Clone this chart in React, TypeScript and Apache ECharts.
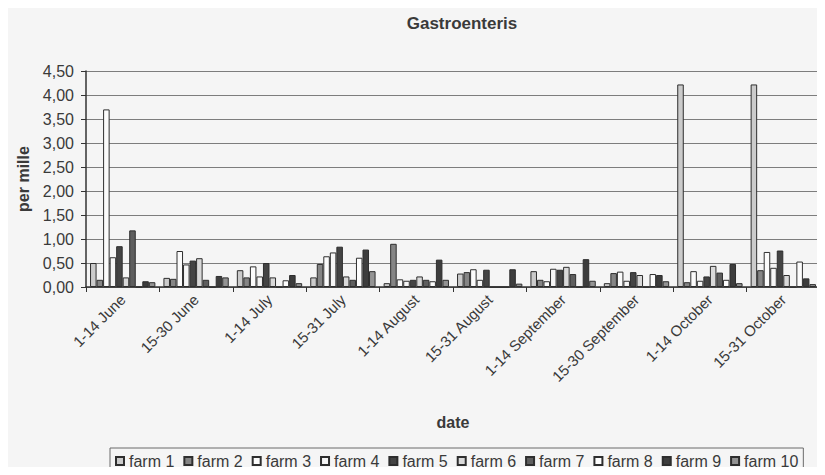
import React, { useEffect, useRef } from "react";
import * as echarts from "echarts";

// Two-week reporting periods
const periods = [
  "1-14 June",
  "15-30 June",
  "1-14 July",
  "15-31 July",
  "1-14 August",
  "15-31 August",
  "1-14 September",
  "15-30 September",
  "1-14 October",
  "15-31 October",
];

// Gastroenteritis incidence per farm (per mille)
const farm1 = [0.5, 0.19, 0.35, 0.2, 0.08, 0.28, 0.33, 0.08, 4.22, 4.22];
const farm2 = [0.15, 0.17, 0.2, 0.48, 0.9, 0.31, 0.15, 0.29, 0.1, 0.35];
const farm3 = [3.7, 0.75, 0.43, 0.64, 0.16, 0.37, 0.12, 0.32, 0.33, 0.73];
const farm4 = [0.62, 0.47, 0.22, 0.72, 0.13, 0.15, 0.38, 0.13, 0.13, 0.4];
const farm5 = [0.85, 0.55, 0.5, 0.84, 0.15, 0.36, 0.36, 0.31, 0.22, 0.76];
const farm6 = [0.2, 0.6, 0.2, 0.22, 0.22, 0, 0.42, 0.25, 0.44, 0.25];
const farm7 = [1.18, 0.15, 0, 0.15, 0.15, 0, 0.27, 0, 0.3, 0];
const farm8 = [0, 0, 0.14, 0.61, 0.12, 0, 0, 0.27, 0.15, 0.53];
const farm9 = [0.12, 0.23, 0.25, 0.78, 0.57, 0.37, 0.58, 0.25, 0.48, 0.18];
const farm10 = [0.1, 0.2, 0.08, 0.33, 0.15, 0.07, 0.13, 0.12, 0.08, 0.06];

const farmNames = [
  "farm 1",
  "farm 2",
  "farm 3",
  "farm 4",
  "farm 5",
  "farm 6",
  "farm 7",
  "farm 8",
  "farm 9",
  "farm 10",
];
const farmValues = [farm1, farm2, farm3, farm4, farm5, farm6, farm7, farm8, farm9, farm10];

// Greyscale fills, one per farm
const farmFills = [
  "#cbcbcb",
  "#858585",
  "#fbfbfb",
  "#f6f6f6",
  "#444444",
  "#d9d9d9",
  "#5e5e5e",
  "#fdfdfd",
  "#3d3d3d",
  "#939393",
];

const FONT = "'Liberation Sans', Arial, sans-serif";
const INK = "#3a3a3a";

export default function App() {
  const ref = useRef<HTMLDivElement>(null);

  useEffect(() => {
    if (!ref.current) return;
    const chart = echarts.init(ref.current, undefined, { renderer: "svg" });

    chart.setOption({
      animation: false,
      backgroundColor: "#f5f5f5",
      textStyle: { fontFamily: FONT, color: INK },
      title: {
        text: "Gastroenteris",
        left: 457,
        top: 10,
        textAlign: "center",
        textStyle: { fontFamily: FONT, fontSize: 17, fontWeight: "bold", color: INK },
      },
      legend: {
        data: farmNames,
        left: 110,
        top: 448,
        orient: "horizontal",
        icon: "rect",
        itemWidth: 8,
        itemHeight: 8,
        itemGap: 9,
        padding: [5, 5, 5, 5],
        borderColor: "#6a6a6a",
        borderWidth: 1,
        textStyle: { fontFamily: FONT, fontSize: 16, color: INK },
      },
      grid: { left: 86, right: 5, top: 71, bottom: 188, containLabel: false },
      xAxis: {
        type: "category",
        data: periods,
        name: "date",
        nameLocation: "middle",
        nameGap: 127,
        nameTextStyle: { fontFamily: FONT, fontSize: 16, fontWeight: "bold", color: INK },
        axisLine: { lineStyle: { color: "#333", width: 1.5 } },
        axisTick: { show: true, length: 5, lineStyle: { color: "#333" } },
        axisLabel: {
          rotate: 45,
          interval: 0,
          margin: 10,
          fontFamily: FONT,
          fontSize: 15,
          color: INK,
        },
        splitLine: { show: false },
      },
      yAxis: {
        type: "value",
        min: 0,
        max: 4.5,
        interval: 0.5,
        name: "per mille",
        nameLocation: "middle",
        nameGap: 54,
        nameTextStyle: { fontFamily: FONT, fontSize: 16, fontWeight: "bold", color: INK },
        axisLine: { show: true, lineStyle: { color: "#333", width: 1.5 } },
        axisTick: { show: true, length: 5, lineStyle: { color: "#333" } },
        axisLabel: {
          margin: 12,
          fontFamily: FONT,
          fontSize: 16,
          color: INK,
          formatter: (v: number) => v.toFixed(2).replace(".", ","),
        },
        splitLine: { show: true, lineStyle: { color: "#7d7d7d", width: 1 } },
      },
      series: farmNames.map((name, i) => ({
        name,
        type: "bar",
        data: farmValues[i],
        barGap: "0%",
        barCategoryGap: "11%",
        itemStyle: { color: farmFills[i], borderColor: "#2e2e2e", borderWidth: 1 },
      })),
    });

    return () => chart.dispose();
  }, []);

  return <div ref={ref} style={{ width: 825, height: 475, margin: -8 }} />;
}
